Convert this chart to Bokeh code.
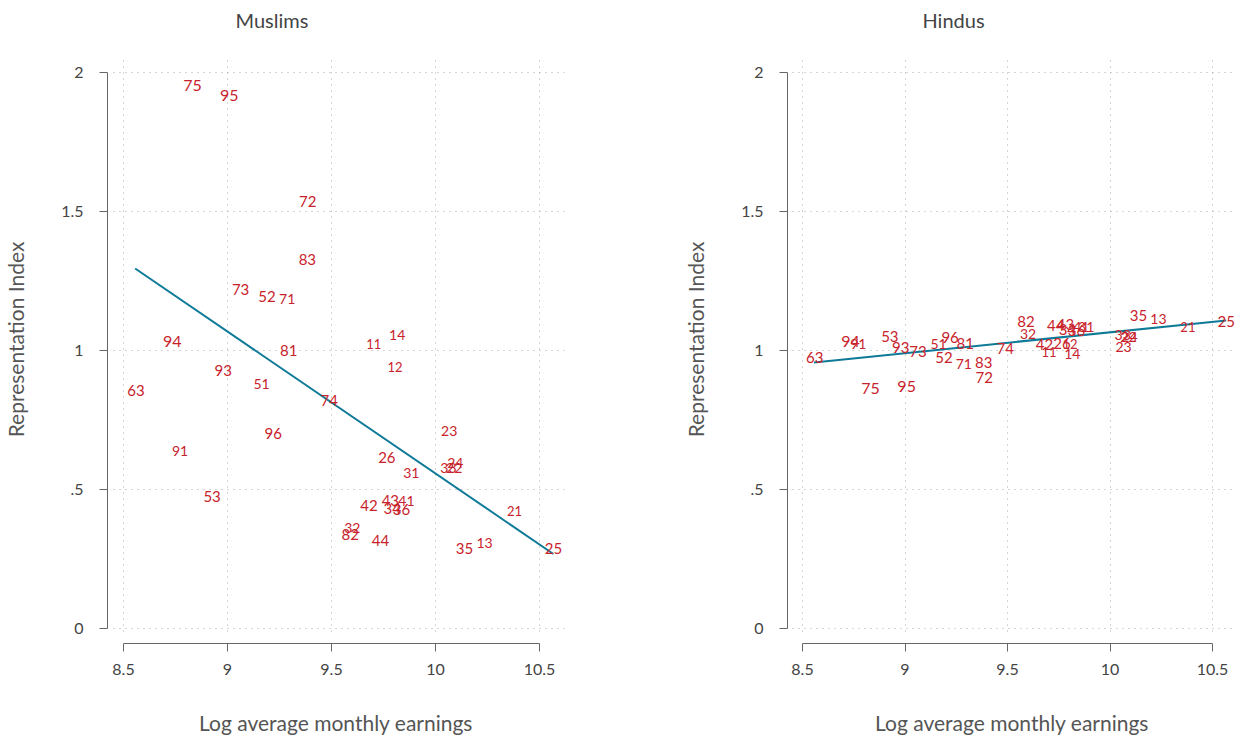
from bokeh.plotting import figure
from bokeh.layouts import row
from bokeh.models import FixedTicker, Range1d, ColumnDataSource, Title
from bokeh.embed import file_html
from bokeh.resources import INLINE
from bokeh.core.properties import value

codes = ["75","95","72","83","73","52","71","94","81","11","14","12","93","63","51","74","96","91",
         "23","26","31","33","24","22","42","43","41","34","36","32","82","44","35","13","21","25","53"]
log_earnings = [8.832, 9.008, 9.386, 9.384, 9.063, 9.190, 9.287, 8.734, 9.294, 9.703, 9.816, 9.805,
                8.979, 8.560, 9.164, 9.489, 9.220, 8.772, 10.066, 9.766, 9.884, 10.062, 10.095, 10.090,
                9.680, 9.783, 9.860, 9.792, 9.836, 9.600, 9.590, 9.735, 10.139, 10.236, 10.380, 10.567, 8.926]
muslim_index = [1.953, 1.917, 1.536, 1.327, 1.219, 1.194, 1.187, 1.032, 1.000, 1.022, 1.054, 0.939,
                0.928, 0.856, 0.878, 0.820, 0.701, 0.637, 0.712, 0.615, 0.561, 0.579, 0.597, 0.579,
                0.442, 0.460, 0.460, 0.432, 0.428, 0.360, 0.338, 0.317, 0.288, 0.306, 0.421, 0.288, 0.475]
hindu_index = [0.863, 0.871, 0.903, 0.957, 0.996, 0.975, 0.950, 1.032, 1.025, 0.996, 0.989, 1.025,
               1.011, 0.975, 1.022, 1.007, 1.047, 1.025, 1.011, 1.025, 1.086, 1.054, 1.047, 1.050,
               1.022, 1.094, 1.086, 1.076, 1.072, 1.061, 1.104, 1.090, 1.126, 1.112, 1.086, 1.104, 1.050]
label_size = ["16px","16px","15px","15px","15px","15px","14px","16px","15px","13px","14px","13px",
              "15px","15px","14px","15px","15px","14px","14px","15px","14px","14px","14px","14px",
              "15px","15px","14px","15px","15px","14px","15px","15px","15px","14px","13px","15px","15px"]

fit_x = [8.556, 10.567]
muslim_fit = [1.295, 0.268]
hindu_fit = [0.957, 1.108]

x_ticks = [8.5, 9, 9.5, 10, 10.5]
x_tick_labels = ["8.5", "9", "9.5", "10", "10.5"]
y_ticks = [0, 0.5, 1, 1.5, 2]
y_tick_labels = ["0", ".5", "1", "1.5", "2"]

FONT = "Lato"
RED = "#C8232C"
TEAL = "#0E7A98"

Y_PX = 278.0          # pixels per y unit
FRAME_H = 608
Y_LO = -0.054
Y_HI = Y_LO + FRAME_H / Y_PX


def panel(title, yvals, fit_y, border_left, frame_w, border_right, x_px, x_pad_left, title_offset):
    x_lo = 8.5 - x_pad_left / x_px
    x_hi = x_lo + frame_w / x_px
    p = figure(output_backend="svg", toolbar_location=None,
               frame_width=frame_w, frame_height=FRAME_H,
               min_border_left=border_left, min_border_right=border_right,
               min_border_top=35, min_border_bottom=93,
               x_range=Range1d(x_lo, x_hi), y_range=Range1d(Y_LO, Y_HI))
    p.outline_line_color = None
    p.background_fill_color = "white"
    p.border_fill_color = "white"
    p.title = None
    t = Title(text=title, align="left", offset=title_offset, standoff=8, text_font=FONT,
              text_font_size="20px", text_font_style="normal", text_color="#444444")
    p.add_layout(t, "above")

    for ax, ticks, labels in ((p.xaxis[0], x_ticks, x_tick_labels), (p.yaxis[0], y_ticks, y_tick_labels)):
        ax.ticker = FixedTicker(ticks=ticks)
        ax.major_label_overrides = {tk: lb for tk, lb in zip(ticks, labels)}
        ax.bounds = (ticks[0], ticks[-1])
        ax.minor_tick_line_color = None
        ax.major_tick_out = 8
        ax.major_tick_in = 0
        ax.axis_line_color = "#666666"
        ax.major_tick_line_color = "#666666"
        ax.major_label_text_font = FONT
        ax.major_label_text_font_size = "16px"
        ax.major_label_text_color = "#444444"
        ax.axis_label_text_font = FONT
        ax.axis_label_text_font_size = "21px"
        ax.axis_label_text_font_style = "normal"
        ax.axis_label_text_color = "#555555"
    p.xaxis.axis_label = "Log average monthly earnings"
    p.yaxis.axis_label = "Representation Index"
    p.xaxis.major_label_standoff = 12
    p.xaxis.axis_label_standoff = 32
    p.yaxis.major_label_standoff = 16
    p.yaxis.axis_label_standoff = 30

    for g, ticks in ((p.xgrid[0], x_ticks), (p.ygrid[0], y_ticks)):
        g.ticker = FixedTicker(ticks=ticks)
        g.grid_line_color = "#aaaaaa"
        g.grid_line_dash = "1 5"
        g.grid_line_width = 1
    p.xgrid[0].cross_bounds = (-0.01, 2.05)
    p.ygrid[0].cross_bounds = (8.5 - 10 / x_px, x_hi)

    p.line(fit_x, fit_y, line_color=TEAL, line_width=2)
    src = ColumnDataSource(dict(x=log_earnings, y=yvals, t=codes, s=label_size))
    p.text(x="x", y="y", text="t", source=src, text_font=value(FONT), text_font_size="s",
           text_color=RED, text_align="center", text_baseline="middle")
    return p


left = panel("Muslims", muslim_index, muslim_fit, 100, 457, 63, 208.0, 16, 128)
right = panel("Hindus", hindu_index, hindu_fit, 160, 449, 0, 205.0, 15, 135)

layout = row(left, right, spacing=0)
open("out.html", "w").write(file_html(layout, INLINE))
